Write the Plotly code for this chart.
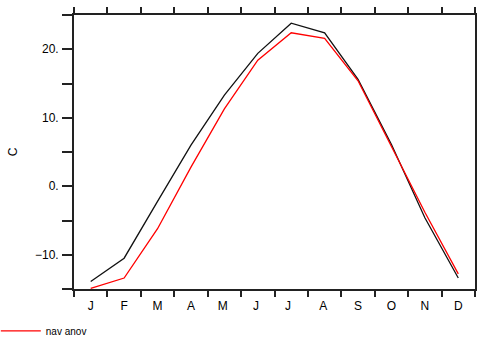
import plotly.graph_objects as go

months = ["J", "F", "M", "A", "M ", "J ", "J  ", "A ", "S", "O", "N", "D"]
black_vals = [-13.9, -10.5, -2.2, 6.0, 13.3, 19.4, 23.8, 22.4, 15.6, 6.1, -4.6, -13.4]
red_vals = [-14.9, -13.4, -6.2, 2.8, 11.3, 18.4, 22.4, 21.6, 15.4, 5.9, -3.8, -12.8]
y_tickvals = [-15, -10, -5, 0, 5, 10, 15, 20, 25]
y_ticktext = ["", "\u221210.", "", "0.", "", "10.", "", "20.", ""]
legend_name = "nav anov"
y_title = "C"

fig = go.Figure()
fig.add_trace(go.Scatter(x=months, y=black_vals, mode="lines",
                         line=dict(color="#111111", width=1.3), showlegend=False))
fig.add_trace(go.Scatter(x=months, y=red_vals, mode="lines", name=legend_name,
                         line=dict(color="#ff0000", width=1.3), showlegend=True))

axfont = dict(family="Liberation Sans, Arial, sans-serif", size=12, color="#000")
fig.update_layout(
    width=481, height=337,
    margin=dict(l=74, r=6, t=15, b=48, autoexpand=False),
    paper_bgcolor="white", plot_bgcolor="white",
    font=axfont,
    xaxis=dict(type="category", range=[-0.5, 11.5], tickson="boundaries",
               ticks="outside", ticklen=6, tickwidth=1.5, tickcolor="#222",
               showline=True, linecolor="#222", linewidth=1.8, mirror="ticks",
               showgrid=False, zeroline=False, tickfont=axfont, automargin=False,
               ticklabelstandoff=5),
    yaxis=dict(range=[-15, 25], tickmode="array", tickvals=y_tickvals, ticktext=y_ticktext,
               ticks="outside", ticklen=10, tickwidth=1.5, tickcolor="#222",
               showline=True, linecolor="#222", linewidth=1.8, mirror=True,
               showgrid=False, zeroline=False, tickfont=axfont, automargin=False,
               ticklabelstandoff=1,
               title=dict(text=y_title, font=axfont, standoff=15)),
    yaxis2=dict(range=[-15, 25], overlaying="y", side="right", tickmode="array",
                tickvals=y_tickvals, ticks="inside", ticklen=10, tickwidth=1.5,
                tickcolor="#222", showticklabels=False, showgrid=False, zeroline=False,
                showline=False, automargin=False),
    legend=dict(orientation="h", x=-0.195, xanchor="left", y=-0.10, yanchor="top",
                itemwidth=40,
                font=dict(family="Liberation Sans, Arial, sans-serif", size=10, color="#000"),
                bgcolor="rgba(0,0,0,0)"),
)
fig.write_html("out.html", config={"displayModeBar": False},
               post_script="document.body.style.margin='0';document.body.style.overflow='hidden';")
